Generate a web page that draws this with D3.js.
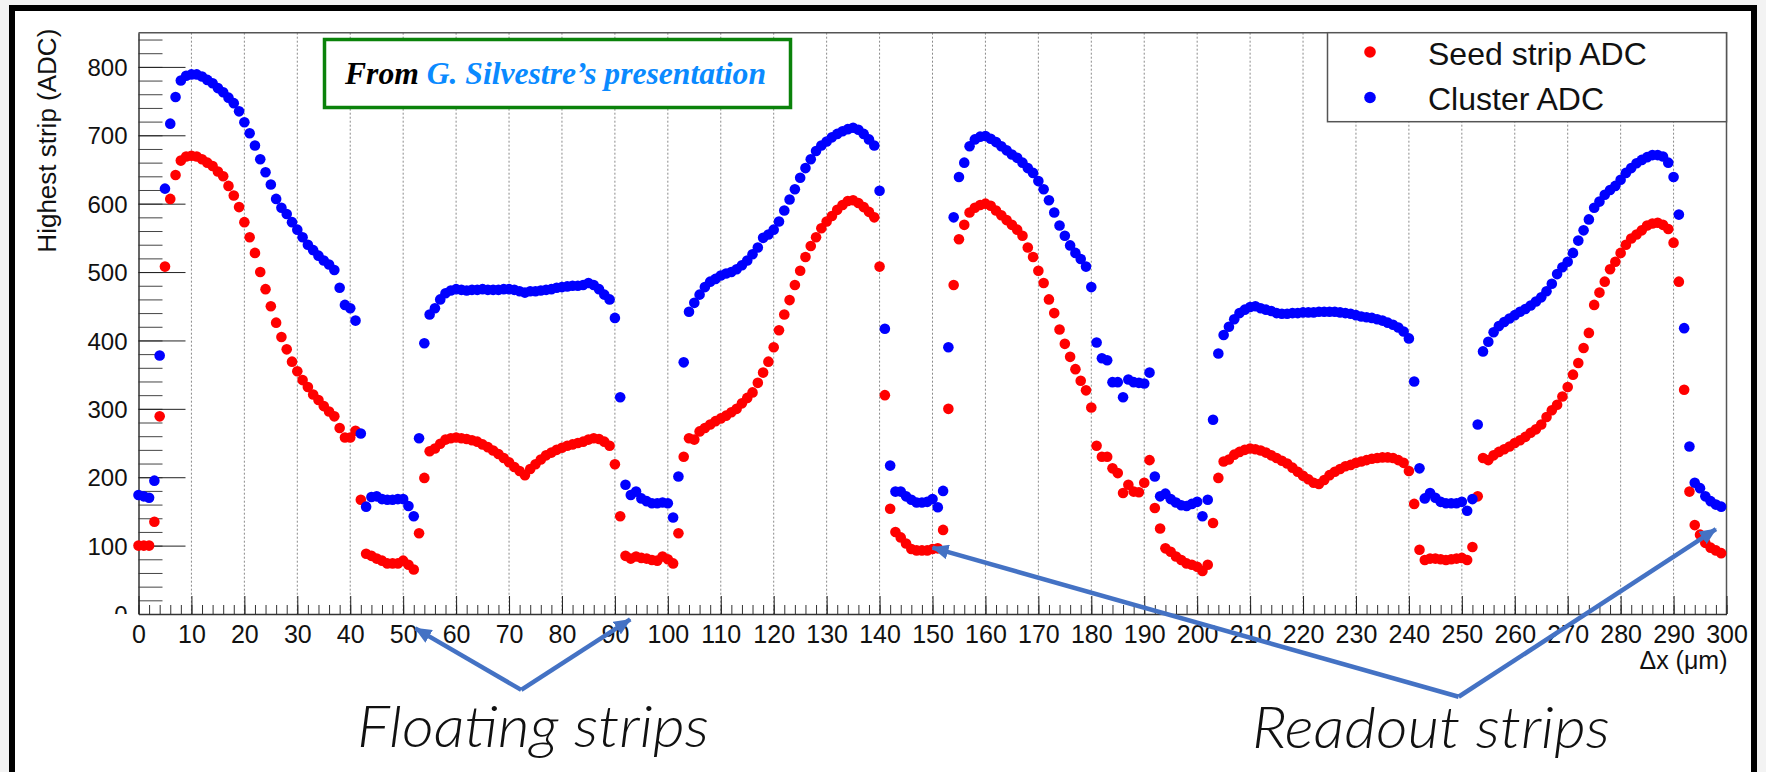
<!DOCTYPE html>
<html>
<head>
<meta charset="utf-8">
<script src="https://cdn.jsdelivr.net/npm/d3@7"></script>
<style>
  html, body { margin: 0; padding: 0; background: #f3f3f3; }
  svg { display: block; }
  .tick text { font-family: "Liberation Sans", Arial, sans-serif; }
</style>
</head>
<body>
<svg id="chart" width="1766" height="772"></svg>
<script>
// Position along the strip pitch (µm), one point per micron
const deltaX = d3.range(0, 300, 1);

// Highest-strip (seed) ADC per position
const seedADC = [
  100,100,100,135,289,508,607,642,663,669, 670,669,665,660,655,647,640,626,612,595,
  573,551,528,500,475,450,426,405,387,369, 355,342,332,321,313,304,296,289,272,258,
  258,268,167,88,85,81,78,74,74,74, 78,72,65,118,199,238,242,249,255,257,
  258,257,256,254,252,248,244,239,234,228, 222,215,209,203,212,219,226,232,236,240,
  243,246,248,250,252,255,257,256,252,246, 219,143,85,81,84,82,81,79,78,84,
  80,74,118,230,257,255,267,272,277,282, 286,290,295,300,308,316,324,338,353,369,
  390,415,438,459,481,502,522,538,551,564, 574,582,591,598,604,605,601,595,588,580,
  508,320,154,120,112,103,95,93,93,93, 95,96,123,300,481,548,569,587,594,598,
  600,597,590,583,576,569,562,553,536,522, 502,484,460,440,416,395,376,358,341,327,
  302,246,230,230,213,206,177,189,179,178, 192,225,155,125,96,91,84,79,74,72,
  69,63,72,133,199,223,226,233,237,240, 242,241,239,236,232,228,224,220,214,208,
  202,197,192,190,196,203,208,212,216,218, 221,223,225,227,228,229,229,228,225,221,
  209,161,94,79,81,81,80,79,80,81, 82,79,98,172,228,225,232,237,241,245,
  250,254,259,265,270,277,288,298,306,318, 332,350,367,389,411,452,470,486,504,515,
  528,540,549,555,561,568,571,572,569,563, 543,486,328,179,130,116,104,97,93,89
];

// Cluster ADC per position
const clusterADC = [
  174,172,170,195,378,622,717,756,780,787, 789,789,786,781,776,769,763,755,747,735,
  719,703,685,665,646,628,607,594,585,573, 562,551,540,532,524,517,511,503,477,452,
  447,429,264,157,171,172,168,167,167,168, 168,158,143,257,396,438,447,460,469,473,
  475,474,473,474,474,475,474,474,474,475, 475,474,472,470,472,472,473,474,475,477,
  478,479,480,480,481,484,481,475,467,460, 433,317,189,174,179,169,165,162,162,163,
  162,141,201,368,442,455,467,478,486,490, 495,498,500,504,510,517,526,536,550,555,
  562,574,590,606,621,638,652,665,677,685, 691,697,702,706,709,711,708,702,694,685,
  619,417,217,179,179,172,167,163,163,164, 168,156,180,390,580,639,660,684,694,698,
  699,695,690,684,678,672,667,660,652,645, 633,621,605,587,568,553,539,528,519,508,
  478,397,374,371,339,339,317,343,339,338, 337,353,201,172,176,168,163,159,158,161,
  164,143,167,284,381,408,420,431,440,445, 449,450,447,445,443,440,439,439,440,440,
  441,441,441,442,442,442,442,441,440,439, 437,435,434,433,431,429,426,423,419,413,
  403,340,213,169,177,170,164,162,162,162, 164,151,168,277,384,398,412,421,427,432,
  437,442,446,451,457,463,472,483,497,507, 515,528,546,561,577,594,603,613,620,626,
  635,645,652,659,664,668,671,671,669,660, 639,584,418,245,192,184,172,165,160,157
];

const seriesNames = ["Seed strip ADC", "Cluster ADC"];
const seriesColors = ["#ff0000", "#0000ff"];

const xMajorTicks = d3.range(0, 301, 10);
const xMinorTicks = d3.range(0, 301, 2);
const yMajorTicks = [0, 100, 200, 300, 400, 500, 600, 700, 800];
const yMinorTicks = d3.range(0, 851, 20);

const xTitle = "\u0394x (\u03bcm)";
const yTitle = "Highest strip (ADC)";

// Annotation arrows, in data coordinates: [start, end]
const floatingArrows = [
  [[72.3, -111], [52.3, -21]],
  [[72.3, -111], [92.9, -8]]
];
const readoutArrows = [
  [[249.4, -121], [150.0, 97]],
  [[249.4, -121], [298.0, 124]]
];

const svg = d3.select("#chart");
const W = 1766, H = 772;

// page frame
svg.append("rect").attr("x", 0).attr("y", 0).attr("width", W).attr("height", H).attr("fill", "#f3f3f3");
svg.append("rect").attr("x", 12).attr("y", 8).attr("width", W - 24).attr("height", H).attr("fill", "#ffffff");
svg.append("path")
  .attr("d", `M12,${H} L12,8 L${W - 12},8 L${W - 12},${H}`)
  .attr("fill", "none").attr("stroke", "#000").attr("stroke-width", 6);

const plot = { left: 138.5, right: 1726.5, top: 32.7, bottom: 614 };
const x = d3.scaleLinear().domain([0, 300]).range([plot.left, plot.right]);
const y = d3.scaleLinear().domain([0, 850]).range([plot.bottom, plot.top]);

const defs = svg.append("defs");
// the y labels stop at the x axis line (the "0" is cut in half)
defs.append("clipPath").attr("id", "ylabelclip")
  .append("rect").attr("x", -300).attr("y", 0).attr("width", W + 600).attr("height", plot.bottom);
defs.append("marker")
  .attr("id", "arrowhead")
  .attr("markerUnits", "userSpaceOnUse")
  .attr("viewBox", "0 0 16 14")
  .attr("refX", 15).attr("refY", 7)
  .attr("markerWidth", 17).attr("markerHeight", 15)
  .attr("orient", "auto")
  .append("path").attr("d", "M0,0 L16,7 L0,14 Z").attr("fill", "#4472c4");

// vertical grid
svg.append("g")
  .selectAll("line")
  .data(xMajorTicks.filter(d => d > 0 && d < 300))
  .join("line")
  .attr("x1", d => x(d)).attr("x2", d => x(d))
  .attr("y1", plot.top).attr("y2", plot.bottom)
  .attr("stroke", "#8a8a8a").attr("stroke-width", 1).attr("stroke-dasharray", "2,2");

// frame (top / right)
svg.append("path")
  .attr("d", `M${plot.left},${plot.top} L${plot.right},${plot.top} L${plot.right},${plot.bottom}`)
  .attr("fill", "none").attr("stroke", "#555").attr("stroke-width", 1.5);

// y axis (drawn before the x axis so the x axis line sits on top)
svg.append("g")
  .attr("transform", `translate(${plot.left},0)`)
  .call(d3.axisLeft(y).tickValues(yMinorTicks).tickSizeInner(-24).tickSizeOuter(0).tickFormat(""))
  .call(g => g.selectAll(".tick line").attr("stroke", "#444"))
  .call(g => g.select(".domain").remove());
const yAxis = svg.append("g")
  .attr("transform", `translate(${plot.left},0)`)
  .attr("clip-path", "url(#ylabelclip)")
  .call(d3.axisLeft(y).tickValues(yMajorTicks).tickSizeInner(-47).tickSizeOuter(0).tickPadding(11));
yAxis.select(".domain").attr("stroke", "#333").attr("stroke-width", 1.5);
yAxis.selectAll(".tick line").attr("stroke", "#222");
yAxis.selectAll(".tick text").attr("font-size", 24).attr("fill", "#111").attr("dy", "0.36em");

// x axis: minor and major ticks pointing into the frame
svg.append("g")
  .attr("transform", `translate(0,${plot.bottom})`)
  .call(d3.axisBottom(x).tickValues(xMinorTicks).tickSizeInner(-9).tickSizeOuter(0).tickFormat(""))
  .call(g => g.selectAll(".tick line").attr("stroke", "#333"))
  .call(g => g.select(".domain").remove());
const xAxis = svg.append("g")
  .attr("transform", `translate(0,${plot.bottom})`)
  .call(d3.axisBottom(x).tickValues(xMajorTicks).tickSizeInner(-18).tickSizeOuter(0).tickPadding(11));
xAxis.select(".domain").attr("stroke", "#333").attr("stroke-width", 1.5);
xAxis.selectAll(".tick line").attr("stroke", "#222");
xAxis.selectAll(".tick text").attr("font-size", 25).attr("fill", "#111");

// axis titles
svg.append("text")
  .attr("transform", `translate(56,${plot.top - 4}) rotate(-90)`)
  .attr("text-anchor", "end")
  .attr("font-family", "Liberation Sans, Arial, sans-serif")
  .attr("font-size", 26).attr("fill", "#111")
  .text(yTitle);
svg.append("text")
  .attr("x", plot.right + 1).attr("y", 669)
  .attr("text-anchor", "end")
  .attr("font-family", "Liberation Sans, Arial, sans-serif")
  .attr("font-size", 25).attr("fill", "#111")
  .text(xTitle);

// data points
const seriesValues = [seedADC, clusterADC];
seriesValues.forEach((vals, i) => {
  svg.append("g")
    .selectAll("circle")
    .data(deltaX.map((d, k) => [d, vals[k]]))
    .join("circle")
    .attr("cx", d => x(d[0]))
    .attr("cy", d => y(d[1]))
    .attr("r", 5.3)
    .attr("fill", seriesColors[i]);
});

// legend
const leg = svg.append("g");
leg.append("rect")
  .attr("x", 1327.5).attr("y", plot.top).attr("width", plot.right - 1327.5).attr("height", 89)
  .attr("fill", "#fff").attr("stroke", "#555").attr("stroke-width", 1.5);
seriesNames.forEach((name, i) => {
  const cy = 52 + i * 45.5;
  leg.append("circle").attr("cx", 1370).attr("cy", cy).attr("r", 5.8).attr("fill", seriesColors[i]);
  leg.append("text")
    .attr("x", 1428).attr("y", cy + 12.5)
    .attr("font-family", "Liberation Sans, Arial, sans-serif")
    .attr("font-size", 32).attr("fill", "#111")
    .text(name);
});

// source note
svg.append("rect")
  .attr("x", 324.5).attr("y", 39.5).attr("width", 466).attr("height", 68)
  .attr("fill", "#fff").attr("stroke", "#0a820a").attr("stroke-width", 3.5);
const note = svg.append("text")
  .attr("x", 345).attr("y", 84)
  .attr("font-family", "Liberation Serif, Times New Roman, serif")
  .attr("font-weight", "bold").attr("font-style", "italic")
  .attr("font-size", 32)
  .attr("textLength", 421).attr("lengthAdjust", "spacingAndGlyphs");
note.append("tspan").attr("fill", "#000").text("From ");
note.append("tspan").attr("fill", "#0a8aff").text("G. Silvestre\u2019s presentation");

// annotation arrows
function drawArrows(list) {
  list.forEach(([a, b]) => {
    svg.append("line")
      .attr("x1", x(a[0])).attr("y1", y(a[1]))
      .attr("x2", x(b[0])).attr("y2", y(b[1]))
      .attr("stroke", "#4472c4").attr("stroke-width", 4.5)
      .attr("marker-end", "url(#arrowhead)");
  });
}
drawArrows(floatingArrows);
drawArrows(readoutArrows);

svg.append("text")
  .attr("x", 357).attr("y", 747)
  .attr("font-family", "Lato, Open Sans, sans-serif")
  .attr("font-weight", 300).attr("font-style", "italic")
  .attr("font-size", 58).attr("fill", "#111")
  .attr("textLength", 352).attr("lengthAdjust", "spacingAndGlyphs")
  .text("Floating strips");
svg.append("text")
  .attr("x", 1252).attr("y", 748)
  .attr("font-family", "Lato, Open Sans, sans-serif")
  .attr("font-weight", 300).attr("font-style", "italic")
  .attr("font-size", 58).attr("fill", "#111")
  .attr("textLength", 358).attr("lengthAdjust", "spacingAndGlyphs")
  .text("Readout strips");
</script>
</body>
</html>
